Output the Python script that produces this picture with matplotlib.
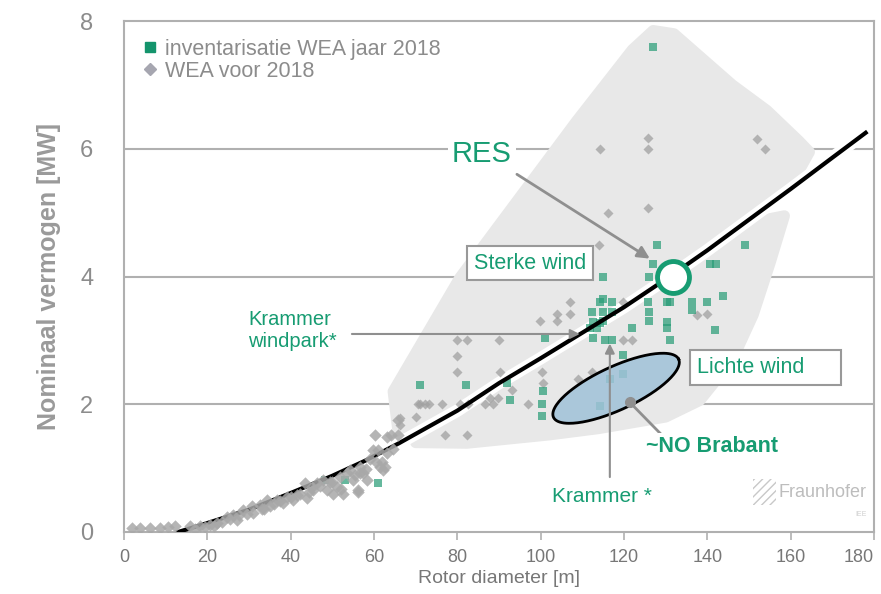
import numpy as np
import matplotlib
matplotlib.use("Agg")
from matplotlib import pyplot as plt
from matplotlib.lines import Line2D
from matplotlib.patches import Polygon, Rectangle

plt.rcParams['font.family'] = ['Liberation Sans', 'DejaVu Sans']

GREEN = '#179c72'
GRAY_TXT = '#8c8c8c'
AX_GRAY = '#b0b0b0'

# trend line (rotor diameter -> nominal power)
curve_x = [13, 20, 30, 40, 50, 58, 66, 80, 90, 100, 111, 120, 131, 140, 150, 160, 170, 178]
curve_y = [0.0, 0.14, 0.35, 0.61, 0.88, 1.12, 1.39, 1.9, 2.33, 2.72, 3.16, 3.52, 4.0, 4.41,
           4.89, 5.37, 5.86, 6.25]

# WEA voor 2018 (gray diamonds)
gray_x = [114.2, 125.8, 125.8, 151.9, 153.8, 116.2, 125.8, 114, 107, 104, 107, 99.8, 104,
          80, 82.3, 90, 80, 80, 90.2, 100.3, 93, 71, 73.3, 76.3, 80.6, 82.5, 86.6, 88.6, 97,
          66.2, 66.2, 70, 87.8, 89.7, 109, 100.5, 112.3, 77, 82.3, 119.8, 122, 137.5, 140,
          119.8, 65.8, 64, 65.8, 70.6, 72.2,
          1.8, 3.8, 6.2, 8.6, 10.6, 12.2, 15.8, 18.2, 20.6, 22.3, 24.7, 26.2, 27, 28.6, 30.7,
          31, 32.6, 34.3, 35, 36.7, 38.2, 39, 40.6, 42.2, 43.4, 43.9, 45.4, 46.3, 47.8, 48.7,
          50.2, 51, 51.8, 52.6, 54.2, 55, 56.2, 56.6, 57.4, 58.3, 59, 59.8, 60.2, 61, 61.9,
          62.2, 63, 63, 56.2, 56.6, 61.4, 62.6, 17, 19.5, 21.5, 23.5, 25.5, 29.5, 33.5, 37.5,
          41.5, 45, 49.5, 53.5, 44.5, 47, 50, 52, 55.5, 58, 60.5, 64.5, 36, 40, 27.5, 33]
gray_y = [6.0, 6.17, 6.0, 6.15, 6.0, 5.0, 5.08, 4.5, 3.6, 3.42, 3.42, 3.3, 3.3,
          3.0, 3.0, 3.0, 2.75, 2.5, 2.5, 2.5, 2.23, 2.0, 2.0, 2.0, 2.0, 2.0, 2.0, 2.0, 2.0,
          1.78, 1.67, 1.8, 2.1, 2.1, 2.4, 2.33, 2.5, 1.52, 1.52, 3.0, 3.0, 3.4, 3.42,
          3.6, 1.75, 1.52, 1.52, 2.0, 2.0,
          0.06, 0.06, 0.07, 0.07, 0.08, 0.09, 0.1, 0.1, 0.11, 0.14, 0.24, 0.26, 0.19, 0.34, 0.4,
          0.3, 0.42, 0.5, 0.4, 0.5, 0.45, 0.55, 0.5, 0.6, 0.76, 0.53, 0.66, 0.76, 0.81, 0.66,
          0.6, 0.71, 0.86, 0.6, 0.97, 0.81, 0.66, 1.02, 0.92, 0.81, 1.15, 1.28, 1.52, 1.28, 1.1,
          0.97, 1.49, 1.23, 0.63, 0.92, 1.02, 1.02, 0.05, 0.08, 0.1, 0.16, 0.2, 0.28, 0.36, 0.48,
          0.58, 0.7, 0.78, 0.92, 0.62, 0.72, 0.78, 0.68, 0.9, 0.98, 1.1, 1.3, 0.44, 0.55,
          0.27, 0.36]

# inventarisatie WEA jaar 2018 (green squares)
green_x = [127, 127.9, 127, 115, 126, 140.6, 142, 149, 101, 71, 82, 92, 100.5, 92.6, 100.3,
           100.3, 116.6, 119.8, 114.2, 114.2, 117, 112.3, 115, 117, 112.6, 114.2, 115, 111.8,
           113.5, 112.6, 115.4, 117, 119.8, 122, 130.3, 131, 136.3, 136.3, 140, 143.8, 125.8,
           126, 126, 130.3, 130.3, 131, 141.8, 115, 48.2, 53, 61]
green_y = [7.6, 4.5, 4.2, 4.0, 4.0, 4.2, 4.2, 4.5, 3.03, 2.3, 2.3, 2.33, 2.2, 2.06, 2.0,
           1.81, 2.4, 2.48, 1.98, 3.6, 3.6, 3.44, 3.44, 3.44, 3.28, 3.27, 3.31, 3.2,
           3.19, 3.03, 3.0, 3.0, 2.77, 3.2, 3.6, 3.6, 3.6, 3.47, 3.6, 3.7, 3.6,
           3.44, 3.31, 3.28, 3.19, 3.0, 3.16, 3.65, 0.81, 0.81, 0.76]

# envelope outlines
upper_env = [(64.6, 2.2), (80.6, 3.98), (108.7, 6.44), (122, 7.55), (127, 7.85), (132, 7.8),
             (146, 7.0), (154.3, 6.6), (162, 6.12), (164.5, 5.95)]
lower_env = [(158.5, 4.95), (155, 4.2), (151, 3.4), (146, 2.69), (138.2, 2.06), (130, 1.8),
             (114, 1.62), (102, 1.52), (82.3, 1.39), (70, 1.4)]

res_point = (131.7, 4.0)
ellipse_center = (118.1, 2.25)

fig = plt.figure(figsize=(8.81, 5.94), dpi=100)
ax = fig.add_axes([124 / 881, 62 / 594, 750 / 881, 511 / 594])
ax.set_xlim(0, 180)
ax.set_ylim(0, 8)

# envelopes
cx = np.array(curve_x)
cy = np.array(curve_y)
seg = (cx >= 66) & (cx <= 164)
up_pts = upper_env + list(zip(cx[seg][::-1], cy[seg][::-1] + 0.05))
seg2 = (cx >= 70) & (cx <= 158)
lo_pts = list(zip(cx[seg2], cy[seg2] - 0.05)) + lower_env
for pts in (up_pts, lo_pts):
    ax.add_patch(Polygon(pts, closed=True, facecolor='#e8e8e8', edgecolor='#e8e8e8',
                         lw=8, joinstyle='round', zorder=1))
band = (cx >= 62)
ax.plot(cx[band], cy[band], color='white', lw=9, solid_capstyle='round', zorder=1.5)

for y in (2, 4, 6):
    ax.axhline(y, color=AX_GRAY, lw=1.5, zorder=0.5)

gx = np.array(gray_x)
gy = np.array(gray_y)
low = gx < 66
ax.scatter(gx[~low], gy[~low], marker='D', s=26, color='#a0a0a0', alpha=0.75, lw=0, zorder=2)
ax.scatter(gx[low], gy[low], marker='D', s=40, color='#a8a8a8', alpha=0.85, lw=0, zorder=3.5)
ax.scatter(green_x, green_y, marker='s', s=34, color='#2a9d78', alpha=0.72, lw=0, zorder=2.2)

ax.plot(curve_x, curve_y, color='black', lw=3, zorder=3)

# ellipse (tilted in screen space)
t = np.linspace(0, 2 * np.pi, 200)
a_px, b_px, ang = 69, 21.6, np.radians(24.9)
sx, sy = 750 / 180, 511 / 8
ex = ellipse_center[0] + (a_px * np.cos(t) * np.cos(ang) - b_px * np.sin(t) * np.sin(ang)) / sx
ey = ellipse_center[1] + (a_px * np.cos(t) * np.sin(ang) + b_px * np.sin(t) * np.cos(ang)) / sy
ax.fill(ex, ey, facecolor='#9fc2d8', alpha=0.85, edgecolor='none', zorder=4)
ax.plot(ex, ey, color='black', lw=2, zorder=4.1)

# RES
ax.plot(*res_point, 'o', ms=23, mfc='white', mec=GREEN, mew=3.5, zorder=6)
ax.text(85.9, 5.92, 'RES', color=GREEN, fontsize=21, ha='center', va='center', zorder=7,
        bbox=dict(facecolor='white', edgecolor='none', pad=3))
ax.annotate('', xy=(126.2, 4.28), xytext=(94.3, 5.6), zorder=5,
            arrowprops=dict(arrowstyle='-|>', color='#8f8f8f', lw=2, mutation_scale=18,
                            shrinkA=0, shrinkB=0))

# boxes
ax.text(97.4, 4.21, 'Sterke wind', color=GREEN, fontsize=15.5, ha='center', va='center',
        zorder=7, bbox=dict(facecolor='white', edgecolor='#999999', lw=1.5, pad=5))
ax.text(137.5, 2.58, 'Lichte wind     ', color=GREEN, fontsize=15.5, ha='left', va='center',
        zorder=7, bbox=dict(facecolor='white', edgecolor='#999999', lw=1.5, pad=5))

# Krammer windpark
ax.text(29.8, 3.16, 'Krammer\nwindpark*', color=GREEN, fontsize=14.5, ha='left', va='center',
        linespacing=1.2, zorder=7)
ax.annotate('', xy=(109.4, 3.1), xytext=(54.7, 3.1), zorder=5,
            arrowprops=dict(arrowstyle='-|>', color='#8f8f8f', lw=1.5, mutation_scale=14,
                            shrinkA=0, shrinkB=0))

# Krammer *
ax.annotate('', xy=(116.6, 2.95), xytext=(116.6, 0.86), zorder=5,
            arrowprops=dict(arrowstyle='-|>', color='#8f8f8f', lw=1.5, mutation_scale=14,
                            shrinkA=0, shrinkB=0))
ax.text(114.7, 0.55, 'Krammer *', color=GREEN, fontsize=15, ha='center', va='center', zorder=7)

# NO Brabant
ax.plot([121.4, 128.6], [2.03, 1.55], color='#8f8f8f', lw=2, zorder=5)
ax.plot(121.4, 2.03, 'o', color='#8f8f8f', ms=7, zorder=5)
ax.text(125.3, 1.34, '~NO Brabant', color=GREEN, fontsize=15.5, fontweight='bold',
        ha='left', va='center', zorder=7,
        bbox=dict(facecolor='white', edgecolor='none', pad=2))

# Fraunhofer logo
ax.add_patch(Rectangle((0.839, 0.052), 0.03, 0.052, transform=ax.transAxes, facecolor='none',
                       edgecolor='#c8c8c8', hatch='////', lw=0, zorder=1))
ax.text(0.873, 0.078, 'Fraunhofer', transform=ax.transAxes, color='#bdbdbd', fontsize=13,
        ha='left', va='center', zorder=1)
ax.text(0.99, 0.035, 'IEE', transform=ax.transAxes, color='#d0d0d0', fontsize=5,
        ha='right', va='center', zorder=1)

# legend
handles = [Line2D([], [], marker='s', ls='none', color='#14946c', ms=7),
           Line2D([], [], marker='D', ls='none', color='#a6a6b0', ms=6)]
leg = ax.legend(handles, ['inventarisatie WEA jaar 2018', 'WEA voor 2018'],
                loc='upper left', bbox_to_anchor=(0.0, 0.995), frameon=False,
                fontsize=15.5, labelcolor=GRAY_TXT, handletextpad=0.2, handlelength=1.0,
                labelspacing=0.05, borderaxespad=0.3)

# axes styling
for sp in ax.spines.values():
    sp.set_color(AX_GRAY)
    sp.set_linewidth(1.5)
ax.set_xticks(range(0, 181, 20))
ax.set_yticks(range(0, 9, 2))
ax.tick_params(axis='x', colors=AX_GRAY, length=6, width=1.2, labelsize=13,
               labelcolor='#777777', pad=6)
ax.tick_params(axis='y', length=0, labelsize=17, labelcolor=GRAY_TXT, pad=22)
ax.get_xticklabels()[-1].set_horizontalalignment('right')
ax.set_xlabel('Rotor diameter [m]', fontsize=14, color='#777777', labelpad=3)
ax.set_ylabel('Nominaal vermogen [MW]', fontsize=18, fontweight='bold', color='#9a9a9a',
              labelpad=14)

fig.savefig('out.png', dpi=100, facecolor='white')
